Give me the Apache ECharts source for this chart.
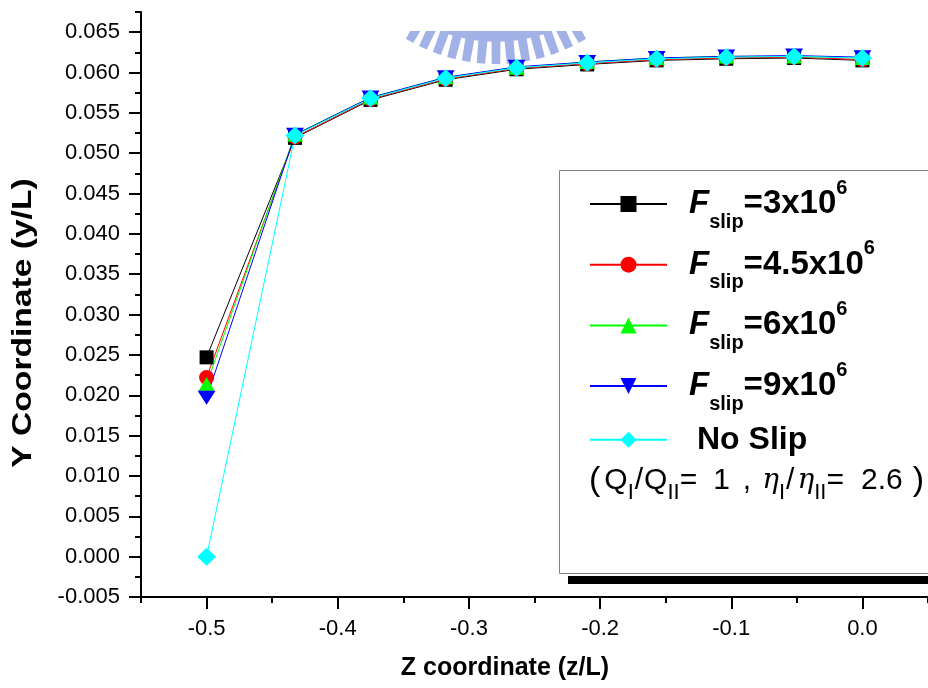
<!DOCTYPE html>
<html>
<head>
<meta charset="utf-8">
<style>
  html, body { margin: 0; padding: 0; background: #fff; }
  #chart { width: 928px; height: 688px; }
</style>
<script src="https://cdn.jsdelivr.net/npm/echarts@6/dist/echarts.min.js"></script>
</head>
<body>
<div id="chart"></div>
<script>
// Z positions along the channel (z/L)
const zCoord = [-0.5, -0.4326, -0.375, -0.3177, -0.2637, -0.2098, -0.1569, -0.1038, -0.0521, 0.0];

// Interface height (y/L) for each slip coefficient
const ySlip3e6   = [0.0247, 0.0519, 0.0566, 0.0591, 0.0604, 0.0610, 0.0615, 0.0617, 0.0618, 0.0615];
const ySlip45e5  = [0.0222, 0.0520, 0.0567, 0.0592, 0.0605, 0.0611, 0.0616, 0.0618, 0.0619, 0.0616];
const ySlip6e6   = [0.0214, 0.0523, 0.0569, 0.0594, 0.0606, 0.0613, 0.0618, 0.0620, 0.0620, 0.0618];
const ySlip9e6   = [0.0197, 0.0523, 0.0569, 0.0594, 0.0607, 0.0613, 0.0618, 0.0620, 0.0621, 0.0619];
const yNoSlip    = [0.0000, 0.0522, 0.0568, 0.0593, 0.0606, 0.0612, 0.0617, 0.0619, 0.0620, 0.0618];

// Axis ticks
const xMajorTicks = [-0.5, -0.4, -0.3, -0.2, -0.1, 0.0];
const xMinorTicks = [-0.55, -0.45, -0.35, -0.25, -0.15, -0.05, 0.05];
const yMajorTicks = [-0.005, 0.000, 0.005, 0.010, 0.015, 0.020, 0.025, 0.030, 0.035, 0.040, 0.045, 0.050, 0.055, 0.060, 0.065];
const yMinorTicks = [-0.0025, 0.0025, 0.0075, 0.0125, 0.0175, 0.0225, 0.0275, 0.0325, 0.0375, 0.0425, 0.0475, 0.0525, 0.0575, 0.0625, 0.0675];

// Series names and their legend labels
const seriesNames = ['Fslip=3x10^6', 'Fslip=4.5x10^6', 'Fslip=6x10^6', 'Fslip=9x10^6', 'No Slip'];
const legendLabels = {
  'Fslip=3x10^6':   '{f|F}{sub|slip}{num|=3x10}{sup|6}',
  'Fslip=4.5x10^6': '{f|F}{sub|slip}{num|=4.5x10}{sup|6}',
  'Fslip=6x10^6':   '{f|F}{sub|slip}{num|=6x10}{sup|6}',
  'Fslip=9x10^6':   '{f|F}{sub|slip}{num|=9x10}{sup|6}',
  'No Slip':        '{ns|No Slip}'
};

const FONT = '"Liberation Sans", Arial, sans-serif';
const X_MIN = -0.55, X_MAX = 0.05;
const Y_MIN = -0.005, Y_MAX = 0.0675;

function pairs(ys) {
  return zCoord.map((z, i) => [z, ys[i]]);
}

function lineSeries(name, ys, color, symbol, size, rotate) {
  return {
    name: name,
    type: 'line',
    xAxisIndex: 0,
    yAxisIndex: 0,
    data: pairs(ys),
    symbol: symbol,
    symbolSize: size,
    symbolRotate: rotate || 0,
    showAllSymbol: true,
    lineStyle: { color: color, width: 1 },
    itemStyle: { color: color },
    emphasis: { disabled: true },
    clip: false
  };
}

// An axis that only carries a set of tick marks
function tickAxis(pos, min, max, values, len) {
  return {
    type: 'value', min: min, max: max, position: pos,
    axisLine: { show: false, onZero: false },
    axisTick: { show: true, customValues: values, length: len, lineStyle: { color: '#000', width: 2 } },
    axisLabel: { show: false },
    splitLine: { show: false }
  };
}

// Watermark emblem: a toothed ring in pale blue, centred above the plot
function emblem() {
  const cx = 496, cy = -109;
  const rBand = 151, rTip = 173;
  const fill = '#a3b2e6';
  const out = [];
  out.push({ type: 'circle', z: 0, silent: true, shape: { cx: cx, cy: cy, r: rBand }, style: { fill: fill } });
  for (let k = -6; k <= 6; k++) {
    const a = (90 + k * 5) * Math.PI / 180;
    const hi = 1.75 * Math.PI / 180, ho = 1.4 * Math.PI / 180;
    const pts = [
      [cx + (rBand - 2) * Math.cos(a - hi), cy + (rBand - 2) * Math.sin(a - hi)],
      [cx + rTip * Math.cos(a - ho), cy + rTip * Math.sin(a - ho)],
      [cx + rTip * Math.cos(a + ho), cy + rTip * Math.sin(a + ho)],
      [cx + (rBand - 2) * Math.cos(a + hi), cy + (rBand - 2) * Math.sin(a + hi)]
    ];
    out.push({ type: 'polygon', z: 0, silent: true, shape: { points: pts }, style: { fill: fill } });
  }
  // the upper part of the emblem stays hidden behind the white page
  out.push({ type: 'rect', z: 1, silent: true, shape: { x: 300, y: 0, width: 400, height: 31 }, style: { fill: '#fff' } });
  return out;
}

const chart = echarts.init(document.getElementById('chart'), null, { renderer: 'canvas' });

chart.setOption({
  animation: false,
  backgroundColor: '#ffffff',
  grid: { left: 141, top: 12, right: -10, bottom: 91, containLabel: false },
  xAxis: [
    {
      type: 'value', min: X_MIN, max: X_MAX, position: 'bottom',
      axisLine: { show: true, onZero: false, lineStyle: { color: '#000', width: 2 } },
      axisTick: { show: false },
      axisLabel: {
        show: true, customValues: xMajorTicks, margin: 21,
        fontFamily: FONT, fontSize: 22, color: '#000',
        formatter: v => v.toFixed(1)
      },
      splitLine: { show: false }
    },
    tickAxis('bottom', X_MIN, X_MAX, xMajorTicks, 12),
    tickAxis('bottom', X_MIN, X_MAX, xMinorTicks, 6)
  ],
  yAxis: [
    {
      type: 'value', min: Y_MIN, max: Y_MAX, position: 'left',
      axisLine: { show: true, onZero: false, lineStyle: { color: '#000', width: 2 } },
      axisTick: { show: false },
      axisLabel: {
        show: true, customValues: yMajorTicks, margin: 21,
        fontFamily: FONT, fontSize: 22, color: '#000',
        formatter: v => v.toFixed(3)
      },
      splitLine: { show: false }
    },
    tickAxis('left', Y_MIN, Y_MAX, yMajorTicks, 12),
    tickAxis('left', Y_MIN, Y_MAX, yMinorTicks, 6)
  ],
  legend: {
    orient: 'vertical',
    left: 589, top: 176,
    padding: 0,
    itemWidth: 77, itemHeight: 20, itemGap: 4.7,
    z: 20,
    selectedMode: false,
    data: seriesNames,
    formatter: name => legendLabels[name],
    textStyle: {
      color: '#000',
      rich: {
        f:   { fontFamily: FONT, fontSize: 33, fontWeight: 'bold', fontStyle: 'italic', lineHeight: 56, verticalAlign: 'middle', padding: [0, 0, 0, 17] },
        sub: { fontFamily: FONT, fontSize: 20, fontWeight: 'bold', lineHeight: 22, verticalAlign: 'bottom' },
        num: { fontFamily: FONT, fontSize: 33, fontWeight: 'bold', lineHeight: 56, verticalAlign: 'middle' },
        sup: { fontFamily: FONT, fontSize: 20, fontWeight: 'bold', lineHeight: 22, verticalAlign: 'top', padding: [2, 0, 0, 0] },
        ns:  { fontFamily: FONT, fontSize: 32, fontWeight: 'bold', lineHeight: 50, padding: [5, 0, 5, 25] }
      }
    }
  },
  graphic: emblem().concat([
    // legend frame with its drop shadow
    { type: 'rect', z: 5, shape: { x: 568, y: 576, width: 400, height: 8 }, style: { fill: '#000' } },
    { type: 'rect', z: 6, shape: { x: 559.5, y: 170.5, width: 420, height: 403 }, style: { fill: '#fff', stroke: '#808080', lineWidth: 1 } },
    // flow-rate and viscosity ratios
    {
      type: 'text', z: 21, left: 589, top: 464,
      style: {
        text: '{p|(}{q|Q}{s|I}{sl|/}{q|Q}{s|II}{eq|=}{v1|1}{cm|,}{e|η}{s|I}{sl|/}{e2|η}{s|II}{eq|=}{v2|2.6}{p2|)}',
        fill: '#000',
        rich: {
          p:  { fontFamily: FONT, fontSize: 34, lineHeight: 46, verticalAlign: 'middle', padding: [0, 4, 0, 0] },
          p2: { fontFamily: FONT, fontSize: 34, lineHeight: 46, verticalAlign: 'middle', padding: [0, 0, 0, 10] },
          q:  { fontFamily: FONT, fontSize: 30, lineHeight: 46, verticalAlign: 'middle' },
          sl: { fontFamily: FONT, fontSize: 30, lineHeight: 46, verticalAlign: 'middle', padding: [0, 1, 0, 1] },
          eq: { fontFamily: FONT, fontSize: 30, lineHeight: 46, verticalAlign: 'middle' },
          v1: { fontFamily: FONT, fontSize: 30, lineHeight: 46, verticalAlign: 'middle', padding: [0, 0, 0, 16] },
          cm: { fontFamily: FONT, fontSize: 30, lineHeight: 46, verticalAlign: 'middle', padding: [0, 0, 0, 13] },
          v2: { fontFamily: FONT, fontSize: 30, lineHeight: 46, verticalAlign: 'middle', padding: [0, 0, 0, 17] },
          e:  { fontFamily: '"DejaVu Serif", serif', fontStyle: 'italic', fontSize: 28, lineHeight: 46, verticalAlign: 'middle', padding: [0, 0, 0, 11] },
          e2: { fontFamily: '"DejaVu Serif", serif', fontStyle: 'italic', fontSize: 28, lineHeight: 46, verticalAlign: 'middle', padding: [0, 0, 0, 2] },
          s:  { fontFamily: FONT, fontSize: 22, lineHeight: 20, verticalAlign: 'bottom' }
        }
      }
    },
    // axis titles
    {
      type: 'text', z: 21, x: 505, y: 668,
      style: { text: 'Z coordinate (z/L)', fill: '#000', font: 'bold 25px ' + FONT, align: 'center', verticalAlign: 'middle' }
    },
    {
      type: 'text', z: 21, x: 23, y: 323, rotation: Math.PI / 2, scaleX: 1.2,
      style: { text: 'Y Coordinate (y/L)', fill: '#000', font: 'bold 28px ' + FONT, align: 'center', verticalAlign: 'middle' }
    }
  ]),
  series: [
    lineSeries(seriesNames[0], ySlip3e6,  '#000000', 'rect', 14),
    lineSeries(seriesNames[1], ySlip45e5, '#ff0000', 'circle', 15),
    lineSeries(seriesNames[2], ySlip6e6,  '#00ff00', 'triangle', [16, 14]),
    lineSeries(seriesNames[3], ySlip9e6,  '#0000ff', 'triangle', [18, 14], 180),
    lineSeries(seriesNames[4], yNoSlip,   '#00ffff', 'diamond', [19, 18])
  ]
});
</script>
</body>
</html>
